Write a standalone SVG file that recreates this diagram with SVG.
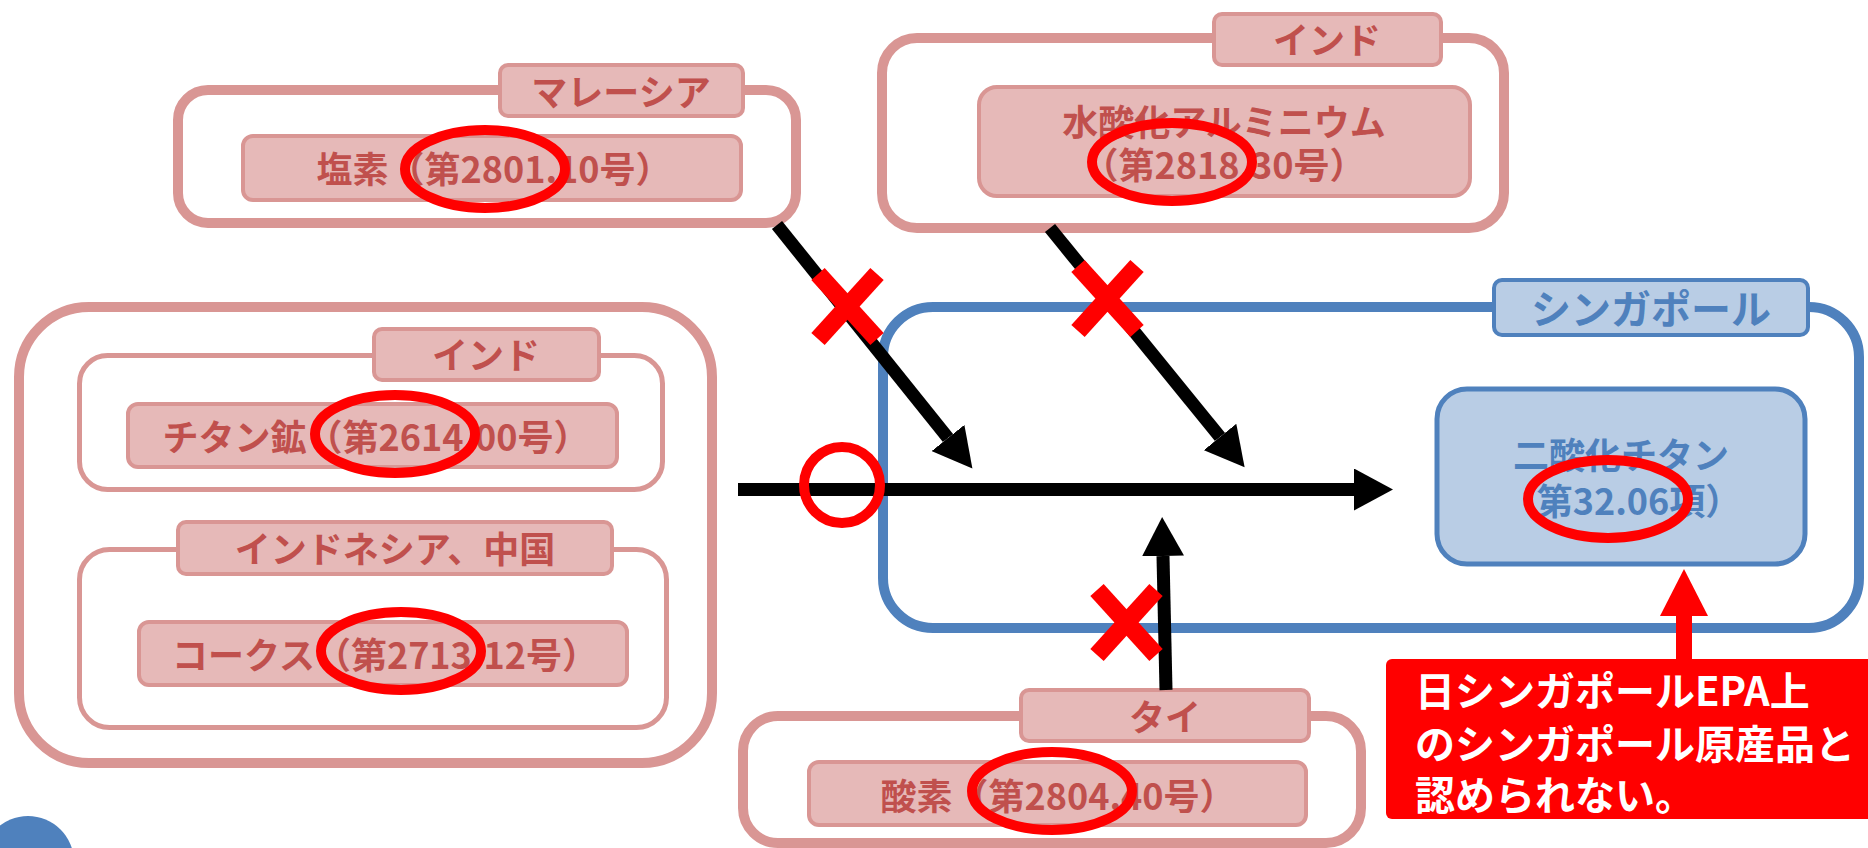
<svg xmlns="http://www.w3.org/2000/svg" width="1868" height="848" viewBox="0 0 1868 848">
<defs>
<style>
.ob{fill:#fff;stroke:#d99694;stroke-width:10}
.ib{fill:#fff;stroke:#d99694;stroke-width:5}
.pk{fill:#e6b9b8;stroke:#d99694;stroke-width:4}
.tp{font-family:"Noto Sans CJK JP","Noto Sans CJK SC",sans-serif;font-size:36px;font-weight:700;fill:#c0504d;text-anchor:middle}
.ts{font-family:"Noto Sans CJK JP","Noto Sans CJK SC",sans-serif;font-size:36px;font-weight:700;fill:#4f81bd;text-anchor:middle}
.tc{font-family:"Noto Sans CJK JP","Noto Sans CJK SC",sans-serif;font-size:40px;font-weight:700;fill:#fff}
.ell{fill:none;stroke:#f00;stroke-width:10}
.x{stroke:#f00;stroke-width:18;stroke-linecap:butt}
.arr{stroke:#000;stroke-width:13;fill:none;marker-end:url(#ah)}
</style>
<marker id="ah" markerUnits="userSpaceOnUse" markerWidth="40" markerHeight="42" refX="0" refY="21" orient="auto" viewBox="0 0 40 42"><path d="M0,0 L39,21 L0,42 z" fill="#000"/></marker>
<marker id="rh" markerUnits="userSpaceOnUse" markerWidth="47" markerHeight="48" refX="0" refY="24" orient="auto" viewBox="0 0 47 48"><path d="M0,0 L47,24 L0,48 z" fill="#f00"/></marker>
</defs>
<rect width="1868" height="848" fill="#fff"/>

<g id="malaysia">
<rect class="ob" x="178" y="90" width="618" height="133" rx="30"/>
<rect class="pk" x="500" y="65" width="243" height="51" rx="8"/>
<text class="tp" x="621" y="106">マレーシア</text>
<rect class="pk" x="243" y="136" width="498" height="64" rx="10"/>
<text class="tp" x="494" y="183">塩素（第2801.10号）</text>
</g>

<g id="india-top">
<rect class="ob" x="882" y="38" width="622" height="190" rx="35"/>
<rect class="pk" x="1214" y="14" width="227" height="51" rx="8"/>
<text class="tp" x="1327" y="54">インド</text>
<rect class="pk" x="979" y="87" width="491" height="109" rx="18"/>
<text class="tp" x="1224" y="136">水酸化アルミニウム</text>
<text class="tp" x="1224" y="179">（第2818.30号）</text>
</g>

<g id="left-group">
<rect class="ob" x="19" y="307" width="693" height="456" rx="70"/>
<g id="india-left">
<rect class="ib" x="79.5" y="355.5" width="583" height="134" rx="28"/>
<rect class="pk" x="374" y="329" width="225" height="51" rx="8"/>
<text class="tp" x="486" y="369">インド</text>
<rect class="pk" x="128" y="404" width="489" height="63" rx="10"/>
<text class="tp" x="376" y="451">チタン鉱（第2614.00号）</text>
</g>
<g id="indonesia-china">
<rect class="ib" x="79.5" y="549.5" width="587" height="178" rx="30"/>
<rect class="pk" x="178" y="522" width="434" height="52" rx="8"/>
<text class="tp" x="395" y="563">インドネシア、中国</text>
<rect class="pk" x="139" y="622" width="488" height="63" rx="10"/>
<text class="tp" x="385" y="669">コークス（第2713.12号）</text>
</g>
</g>

<g id="singapore">
<rect x="883" y="307" width="976" height="321" rx="50" fill="#fff" stroke="#4f81bd" stroke-width="10"/>
<rect x="1494" y="280" width="314" height="55" rx="8" fill="#b9cde5" stroke="#4f81bd" stroke-width="4"/>
<text class="ts" x="1651" y="324" style="font-size:40px">シンガポール</text>
<rect x="1437" y="389" width="368" height="175" rx="30" fill="#b9cde5" stroke="#4f81bd" stroke-width="5"/>
<text class="ts" x="1621" y="469">二酸化チタン</text>
<text class="ts" x="1621" y="515">（第32.06項）</text>
</g>

<g id="thai">
<rect class="ob" x="743" y="716" width="618" height="127" rx="35"/>
<rect class="pk" x="1021" y="690" width="288" height="51" rx="8"/>
<text class="tp" x="1165" y="731">タイ</text>
<rect class="pk" x="809" y="762" width="497" height="63" rx="10"/>
<text class="tp" x="1058" y="810">酸素（第2804.40号）</text>
</g>

<g id="connectors">
<line class="arr" x1="738" y1="489.5" x2="1354" y2="489.5"/>
<line class="arr" x1="777" y1="225" x2="948" y2="438"/>
<line class="arr" x1="1050" y1="228" x2="1220" y2="437"/>
<line class="arr" x1="1166" y1="690" x2="1163" y2="556" stroke-width="12"/>
<line x1="1684" y1="660" x2="1684" y2="616" stroke="#f00" stroke-width="16" marker-end="url(#rh)"/>
</g>

<g id="marks">
<ellipse class="ell" cx="485" cy="169" rx="80" ry="39"/>
<ellipse class="ell" cx="1172" cy="162" rx="80" ry="39"/>
<ellipse class="ell" cx="395" cy="434" rx="80" ry="39"/>
<ellipse class="ell" cx="401" cy="651" rx="80" ry="39"/>
<ellipse class="ell" cx="1052" cy="791" rx="80" ry="39"/>
<ellipse class="ell" cx="1608" cy="499" rx="80" ry="39"/>
<circle class="ell" cx="842" cy="485" r="38"/>
<g id="x1"><line class="x" x1="818" y1="274" x2="877" y2="339"/><line class="x" x1="877" y1="274" x2="818" y2="339"/></g>
<g id="x2"><line class="x" x1="1078" y1="266" x2="1137" y2="331"/><line class="x" x1="1137" y1="266" x2="1078" y2="331"/></g>
<g id="x3"><line class="x" x1="1097" y1="590" x2="1156" y2="655"/><line class="x" x1="1156" y1="590" x2="1097" y2="655"/></g>
</g>

<g id="callout">
<rect x="1386" y="659" width="500" height="160" rx="6" fill="#f00"/>
<text class="tc" x="1415" y="706">日シンガポールEPA上</text>
<text class="tc" x="1415" y="759">のシンガポール原産品と</text>
<text class="tc" x="1415" y="810">認められない。</text>
</g>

<circle id="corner-dot" cx="28" cy="862" r="46" fill="#4f81bd"/>
</svg>
